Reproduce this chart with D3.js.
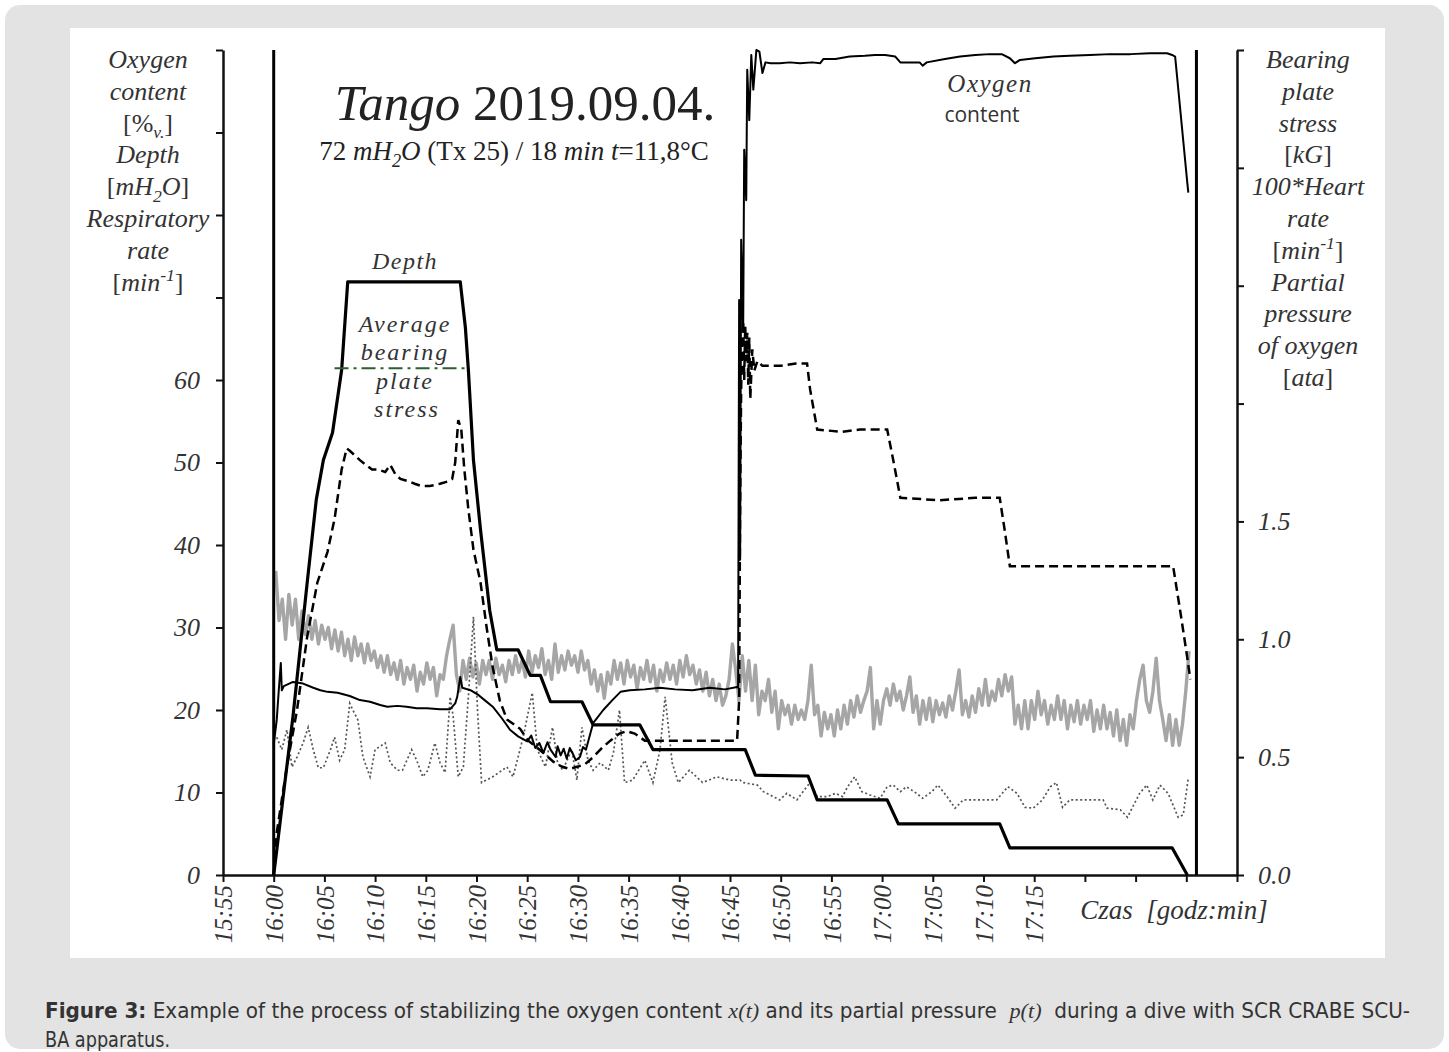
<!DOCTYPE html>
<html>
<head>
<meta charset="utf-8">
<script src="https://cdnjs.cloudflare.com/ajax/libs/d3/7.8.5/d3.min.js"></script>
<style>
body { margin: 0; background: #fff; }
svg { display: block; }
</style>
</head>
<body>
<svg id="chart" width="1449" height="1052"></svg>
<script>
// time is in minutes after 16:00
var tickTimes = [-5, 0, 5, 10, 15, 20, 25, 30, 35, 40, 45, 50, 55, 60, 65, 70, 75, 80, 85, 90, 95];
var tickLabels = ["15:55", "16:00", "16:05", "16:10", "16:15", "16:20", "16:25", "16:30", "16:35", "16:40",
    "16:45", "16:50", "16:55", "17:00", "17:05", "17:10", "17:15", "", "", "", ""];
var leftTicks = [0, 10, 20, 30, 40, 50, 60, 70, 80, 90, 100];
var leftTickLabels = ["0", "10", "20", "30", "40", "50", "60", "", "", "", ""];
var rightTicks = [0, 0.5, 1, 1.5, 2, 2.5, 3, 3.5];
var rightTickLabels = ["0.0", "0.5", "1.0", "1.5", "", "", "", ""];

// start / end of the dive (vertical markers)
var diveMarks = [0, 91];

// depth [mH2O], left axis
var depth = [[0, 0], [0.3, 3.0], [1.1, 11.2], [1.9, 19.2], [2.6, 27.3], [3.3, 35.4], [4.2, 45.5], [4.9, 50.3],
    [5.8, 53.6], [6.7, 61.2], [7.3, 71.9], [18.4, 71.9], [18.9, 66.4], [19.2, 61.2], [19.7, 50.3], [20.4, 41.8],
    [21.3, 32.1], [22.0, 27.3], [24.1, 27.3], [25.3, 24.2], [26.3, 24.2], [27.3, 21.0], [30.4, 21.0], [31.5, 18.2],
    [36.1, 18.2], [37.4, 15.2], [46.5, 15.2], [47.5, 12.1], [52.7, 12.0], [53.6, 9.1], [60.5, 9.1], [61.6, 6.2],
    [71.6, 6.2], [72.6, 3.3], [88.6, 3.3], [90.1, 0]];

// oxygen content [%v], left axis
var oxygenContent = [[0.0, 15.8], [0.3, 18.8], [0.5, 22.4], [0.7, 25.7], [0.8, 22.4], [1.0, 22.9], [1.9, 23.4],
    [2.9, 23.2], [3.9, 22.7], [4.6, 22.4], [5.3, 22.2], [6.3, 22.1], [7.5, 21.7], [8.5, 21.2], [9.5, 21.0],
    [10.5, 20.6], [11.2, 20.4], [12.2, 20.5], [13.1, 20.4], [14.1, 20.2], [15.1, 20.2], [16.4, 20.1], [17.4, 20.1],
    [17.9, 20.8], [18.1, 21.6], [18.4, 24.0], [18.6, 22.7], [19.4, 22.4], [20.1, 21.9], [20.8, 21.2], [21.6, 20.4],
    [22.5, 19.0], [23.3, 17.6], [24.1, 16.8], [25.0, 16.2], [25.4, 16.9], [25.8, 15.4], [26.2, 16.0], [26.6, 14.8],
    [27.0, 16.1], [27.3, 15.2], [27.8, 14.3], [28.0, 15.6], [28.3, 14.5], [28.6, 15.3], [28.9, 14.1], [29.2, 15.4],
    [29.5, 14.7], [29.8, 13.9], [30.2, 14.3], [30.5, 15.5], [30.8, 15.2], [31.5, 18.4], [32.5, 20.0], [33.4, 21.2],
    [34.2, 22.2], [35.1, 22.4], [36.6, 22.5], [38.1, 22.7], [39.6, 22.5], [41.3, 22.4], [43.0, 22.7], [44.5, 22.5],
    [45.7, 22.8], [45.8, 22.7], [45.9, 69.7], [46.0, 38.2], [46.1, 77.0], [46.3, 66.1], [46.4, 87.9], [46.6, 81.8],
    [46.7, 97.6], [46.9, 91.5], [47.1, 99.4], [47.3, 95.2], [47.6, 100], [47.9, 99.8], [48.2, 97.2], [48.5, 98.5],
    [49.0, 98.4], [49.9, 98.4], [50.9, 98.5], [51.9, 98.4], [53.1, 98.5], [53.9, 98.4], [54.2, 98.9], [55.4, 98.9],
    [56.8, 99.2], [58.3, 99.3], [59.3, 99.4], [60.3, 99.4], [61.3, 99.2], [61.8, 98.5], [62.9, 98.5], [63.7, 98.5],
    [64.0, 98.1], [64.4, 98.5], [66.2, 98.9], [67.7, 99.2], [69.2, 99.4], [70.6, 99.5], [71.8, 99.5], [72.6, 99.0],
    [73.1, 98.4], [73.6, 98.8], [75.1, 99.0], [76.9, 99.2], [78.5, 99.3], [80.5, 99.4], [82.5, 99.5], [84.5, 99.5],
    [86.4, 99.6], [88.1, 99.6], [88.6, 99.4], [88.9, 99.2], [90.1, 83.9], [90.2, 82.7]];

// partial pressure of oxygen [ata], right axis
var pO2 = [[0, 0], [0.3, 0.18], [1.3, 0.46], [2.3, 0.70], [3.3, 1.01], [4.3, 1.24], [5.3, 1.37], [6.0, 1.51],
    [6.7, 1.72], [7.2, 1.81], [7.5, 1.80], [8.0, 1.78], [8.5, 1.76], [9.1, 1.74], [9.7, 1.72], [10.3, 1.72],
    [11.0, 1.71], [11.5, 1.74], [12.0, 1.70], [12.5, 1.68], [13.3, 1.67], [13.9, 1.66], [14.6, 1.65], [15.4, 1.65],
    [16.4, 1.66], [17.2, 1.67], [17.6, 1.68], [17.9, 1.75], [18.2, 1.93], [18.5, 1.89], [18.8, 1.72], [19.2, 1.55],
    [19.7, 1.38], [20.4, 1.24], [21.0, 1.05], [21.6, 0.88], [22.3, 0.74], [23.0, 0.66], [24.3, 0.62], [25.1, 0.57],
    [26.0, 0.54], [26.8, 0.51], [27.6, 0.48], [28.4, 0.46], [29.2, 0.45], [30.0, 0.46], [30.7, 0.47], [31.5, 0.50],
    [32.4, 0.54], [33.2, 0.57], [34.1, 0.60], [34.8, 0.61], [35.6, 0.60], [36.6, 0.57], [38.1, 0.57], [40.1, 0.57],
    [42.0, 0.57], [44.0, 0.57], [45.7, 0.57], [45.9, 0.74], [46.0, 1.59], [46.1, 2.06], [46.2, 2.27], [46.3, 2.35],
    [46.4, 2.10], [46.5, 2.33], [46.6, 2.18], [46.7, 2.30], [46.8, 2.08], [46.9, 2.28], [47.0, 2.02], [47.2, 2.23],
    [47.4, 2.14], [47.7, 2.18], [48.2, 2.16], [50.0, 2.16], [51.5, 2.17], [52.6, 2.17], [52.9, 2.06], [53.6, 1.89],
    [56.0, 1.88], [57.8, 1.89], [60.5, 1.89], [61.1, 1.76], [61.8, 1.60], [65.7, 1.59], [69.2, 1.60], [71.6, 1.60],
    [72.1, 1.46], [72.6, 1.31], [77.6, 1.31], [82.5, 1.31], [88.7, 1.31], [89.4, 1.12], [90.0, 0.95], [90.4, 0.83]];

// respiratory rate [1/min], left axis
var respiratoryRate = [[0.3, 16.7], [0.8, 15.2], [1.3, 17.6], [1.8, 13.1], [2.3, 14.3], [2.9, 16.0], [3.4, 17.9],
    [3.9, 15.2], [4.4, 13.0], [4.9, 13.0], [5.6, 15.2], [6.0, 16.7], [6.5, 13.9], [7.0, 15.2], [7.5, 20.8],
    [7.8, 20.0], [8.3, 18.8], [8.8, 14.3], [9.5, 11.9], [10.0, 15.2], [11.0, 16.0], [11.5, 13.6], [12.2, 12.7],
    [12.7, 12.7], [13.6, 15.2], [14.1, 13.9], [14.7, 11.9], [15.2, 12.7], [15.9, 16.0], [16.4, 13.6], [16.9, 12.4],
    [17.4, 21.6], [17.7, 19.2], [18.2, 11.9], [18.7, 13.1], [19.2, 21.6], [19.7, 31.3], [20.1, 20.0], [20.5, 11.2],
    [21.6, 11.9], [23.0, 13.1], [23.6, 11.9], [24.6, 16.7], [25.5, 22.1], [26.0, 15.2], [26.8, 13.1], [27.5, 17.9],
    [28.0, 13.6], [28.5, 12.7], [29.4, 15.2], [29.9, 11.5], [30.4, 17.9], [31.0, 13.9], [31.5, 12.7], [32.2, 13.6],
    [33.0, 12.7], [33.5, 14.8], [34.1, 20.0], [34.6, 11.2], [35.4, 11.5], [36.6, 13.9], [37.4, 11.2], [38.1, 15.2],
    [38.6, 21.6], [39.3, 13.6], [39.9, 11.2], [41.0, 12.7], [42.3, 11.2], [43.7, 11.9], [45.0, 11.5], [46.0, 11.5],
    [46.3, 11.2], [47.7, 10.9], [48.3, 10.1], [49.9, 9.1], [50.6, 9.9], [51.6, 9.1], [52.2, 10.1], [52.9, 11.2],
    [53.6, 9.5], [54.6, 9.5], [55.4, 9.9], [56.1, 9.5], [56.6, 10.7], [57.3, 11.9], [58.0, 10.1], [58.8, 9.7],
    [59.8, 9.3], [60.5, 10.7], [61.1, 10.9], [61.8, 10.1], [62.4, 10.7], [63.4, 9.9], [64.0, 9.3], [64.9, 10.1],
    [65.5, 10.9], [66.4, 9.5], [67.2, 8.1], [68.0, 9.1], [71.3, 9.1], [72.4, 10.7], [73.3, 9.9], [74.1, 8.2],
    [74.9, 8.1], [75.8, 9.1], [76.6, 10.7], [77.2, 11.2], [77.8, 8.2], [78.5, 9.1], [81.8, 9.1], [82.2, 8.1],
    [83.5, 7.9], [84.2, 7.0], [85.4, 9.9], [86.1, 10.9], [86.7, 9.1], [87.4, 10.9], [88.2, 9.9], [89.2, 7.0],
    [89.7, 7.3], [90.2, 11.8]];

// heart rate [1/min], sampled every hrStep minutes from hrStart; plotted as rate/100 on the right axis
var hrStart = 0.2, hrStep = 0.324;
var heartRate = [129, 108, 117, 100, 119, 106, 117, 100,
    112, 102, 110, 100, 108, 98, 106, 100, 105, 96,
    104, 95, 103, 93, 100, 91, 101, 93, 98, 90,
    98, 91, 95, 88, 93, 86, 93, 85, 90, 83,
    91, 81, 88, 83, 89, 78, 86, 81, 90, 83,
    88, 76, 85, 83, 93, 100, 106, 85, 78, 91,
    83, 92, 84, 90, 81, 91, 85, 91, 83, 92,
    85, 89, 82, 91, 85, 93, 86, 91, 84, 95,
    86, 93, 88, 96, 85, 91, 83, 98, 86, 93,
    87, 95, 89, 93, 86, 95, 87, 91, 81, 87,
    78, 85, 75, 86, 81, 91, 83, 90, 81, 91,
    84, 89, 79, 88, 83, 91, 82, 89, 78, 87,
    82, 90, 83, 89, 81, 91, 84, 93, 85, 89,
    81, 87, 78, 86, 76, 83, 74, 81, 72, 76,
    83, 98, 87, 74, 93, 78, 91, 74, 89, 68,
    78, 74, 83, 69, 78, 62, 74, 68, 72, 64,
    72, 66, 70, 66, 74, 89, 68, 72, 59, 69,
    62, 68, 59, 70, 62, 72, 64, 74, 67, 76,
    69, 74, 78, 88, 62, 74, 64, 74, 79, 72,
    81, 74, 78, 70, 76, 84, 69, 76, 64, 74,
    66, 75, 65, 74, 68, 73, 67, 76, 70, 78,
    87, 68, 74, 67, 76, 69, 79, 72, 83, 72,
    78, 74, 83, 76, 85, 78, 84, 64, 72, 62,
    74, 62, 74, 66, 78, 68, 74, 64, 72, 66,
    76, 66, 74, 62, 72, 65, 74, 64, 72, 66,
    74, 61, 70, 62, 72, 62, 69, 59, 70, 57,
    66, 55, 68, 62, 74, 83, 89, 74, 69, 78,
    92, 74, 66, 57, 68, 55, 66, 55, 64, 78,
    95];

// average bearing plate stress [kG], right axis
var avgStress = 2.15, avgStressFrom = 6.0, avgStressTo = 18.9;

var serif = "'Liberation Serif', 'Times New Roman', serif";
var captionFont = "'DejaVu Sans Condensed', 'DejaVu Sans', sans-serif";
var svg = d3.select("#chart");

svg.append("rect").attr("width", 1449).attr("height", 1052).attr("fill", "#fff");
svg.append("rect").attr("x", 5).attr("y", 5).attr("width", 1439).attr("height", 1044)
    .attr("rx", 15).attr("fill", "#e3e3e3");
svg.append("rect").attr("x", 70).attr("y", 28).attr("width", 1315).attr("height", 930).attr("fill", "#fff");

var x = d3.scaleLinear().domain([-5, 95]).range([223, 1237]);
var yL = d3.scaleLinear().domain([0, 100]).range([875, 50]);
var yR = d3.scaleLinear().domain([0, 3.5]).range([875, 50]);

// text with italic / sub / sup parts
function rich(sel, parts, size) {
    var shift = 0;
    parts.forEach(function(p) {
        var code = p[1] || "";
        var target = 0, fs = size;
        if (code.indexOf("_") >= 0) { target = size * 0.25; fs = size * 0.68; }
        if (code.indexOf("^") >= 0) { target = -size * 0.38; fs = size * 0.68; }
        var ts = sel.append("tspan").text(p[0])
            .attr("dy", target - shift)
            .style("font-size", fs + "px")
            .style("font-style", code.indexOf("i") >= 0 ? "italic" : "normal")
            .style("font-weight", code.indexOf("b") >= 0 ? "bold" : "normal");
        if (p[2]) ts.style("font-family", p[2]);
        shift = target;
    });
}

function styleAxis(g) {
    g.select(".domain").attr("stroke", "#111").attr("stroke-width", 2.5);
    g.selectAll(".tick line").attr("stroke", "#111").attr("stroke-width", 2);
    g.selectAll(".tick text").attr("fill", "#333")
        .style("font-family", serif).style("font-style", "italic").style("font-size", "26px");
}

// axes
var axLeft = svg.append("g").attr("transform", "translate(223,0)")
    .call(d3.axisLeft(yL).tickValues(leftTicks).tickFormat((d, i) => leftTickLabels[i])
        .tickSize(7).tickSizeOuter(0).tickPadding(16));
styleAxis(axLeft);

var axRight = svg.append("g").attr("transform", "translate(1237,0)")
    .call(d3.axisRight(yR).tickValues(rightTicks).tickFormat((d, i) => rightTickLabels[i])
        .tickSize(7).tickSizeOuter(0).tickPadding(14));
styleAxis(axRight);

var axBottom = svg.append("g").attr("transform", "translate(0,875)")
    .call(d3.axisBottom(x).tickValues(tickTimes).tickFormat((d, i) => tickLabels[i])
        .tickSize(7).tickSizeOuter(0));
styleAxis(axBottom);
axBottom.selectAll(".tick text")
    .attr("transform", "rotate(-90)")
    .attr("text-anchor", "end")
    .attr("x", -10).attr("y", 0).attr("dy", "0.35em")
    .style("font-size", "25px");

svg.append("text").attr("x", 1174).attr("y", 919).attr("text-anchor", "middle")
    .attr("fill", "#333").style("font-family", serif).style("font-style", "italic").style("font-size", "27px")
    .attr("xml:space", "preserve")
    .text("Czas  [godz:min]");

// series
var lineL = d3.line().x(d => x(d[0])).y(d => yL(d[1]));
var lineR = d3.line().x(d => x(d[0])).y(d => yR(d[1]));
var lineHR = d3.line().x((d, i) => x(hrStart + i * hrStep)).y(d => yR(d / 100));

svg.append("path").datum(heartRate).attr("d", lineHR)
    .attr("fill", "none").attr("stroke", "#a6a6a6").attr("stroke-width", 3.4).attr("stroke-linejoin", "round");

svg.append("path").datum(respiratoryRate).attr("d", lineL)
    .attr("fill", "none").attr("stroke", "#555").attr("stroke-width", 1.7).attr("stroke-dasharray", "2,2.5");

svg.append("path").datum(depth).attr("d", lineL)
    .attr("fill", "none").attr("stroke", "#000").attr("stroke-width", 3.2).attr("stroke-linejoin", "round");

svg.append("path").datum(oxygenContent).attr("d", lineL)
    .attr("fill", "none").attr("stroke", "#000").attr("stroke-width", 2).attr("stroke-linejoin", "round");

svg.append("path").datum(pO2).attr("d", lineR)
    .attr("fill", "none").attr("stroke", "#000").attr("stroke-width", 2.5).attr("stroke-dasharray", "9,5");

svg.append("line")
    .attr("x1", x(avgStressFrom)).attr("x2", x(avgStressTo))
    .attr("y1", yR(avgStress)).attr("y2", yR(avgStress))
    .attr("stroke", "#2e5e2e").attr("stroke-width", 2).attr("stroke-dasharray", "14,5,3,5");

svg.selectAll(".dive-mark").data(diveMarks).enter().append("line")
    .attr("class", "dive-mark")
    .attr("x1", d => x(d)).attr("x2", d => x(d))
    .attr("y1", yL(0)).attr("y2", yL(100))
    .attr("stroke", "#000").attr("stroke-width", 3);

// axis titles
var leftTitle = [
    [["Oxygen", "i"]], [["content", "i"]], [["[%", ""], ["v.", "i_"], ["]", ""]], [["Depth", "i"]],
    [["[", ""], ["mH", "i"], ["2", "i_"], ["O", "i"], ["]", ""]], [["Respiratory", "i"]], [["rate", "i"]],
    [["[", ""], ["min", "i"], ["-1", "i^"], ["]", ""]]
];
var rightTitle = [
    [["Bearing", "i"]], [["plate", "i"]], [["stress", "i"]], [["[", ""], ["kG", "i"], ["]", ""]],
    [["100*Heart", "i"]], [["rate", "i"]], [["[", ""], ["min", "i"], ["-1", "i^"], ["]", ""]],
    [["Partial", "i"]], [["pressure", "i"]], [["of oxygen", "i"]], [["[", ""], ["ata", "i"], ["]", ""]]
];
leftTitle.forEach(function(parts, i) {
    var t = svg.append("text").attr("x", 148).attr("y", 68 + i * 31.8).attr("text-anchor", "middle")
        .attr("fill", "#333").style("font-family", serif);
    rich(t, parts, 26);
});
rightTitle.forEach(function(parts, i) {
    var t = svg.append("text").attr("x", 1308).attr("y", 68 + i * 31.8).attr("text-anchor", "middle")
        .attr("fill", "#333").style("font-family", serif);
    rich(t, parts, 26);
});

// chart title
var title = svg.append("text").attr("x", 525).attr("y", 120).attr("text-anchor", "middle")
    .attr("fill", "#222").style("font-family", serif);
rich(title, [["Tango", "i"], [" 2019.09.04.", ""]], 51);
var sub = svg.append("text").attr("x", 514).attr("y", 160).attr("text-anchor", "middle")
    .attr("fill", "#222").style("font-family", serif);
rich(sub, [["72 ", ""], ["mH", "i"], ["2", "i_"], ["O", "i"], [" (Tx 25) / 18 ", ""], ["min", "i"], [" ", ""],
    ["t", "i"], ["=11,8°C", ""]], 27);

// annotations
function note(txt, cx, cy, family, style, size, ls) {
    svg.append("text").attr("x", cx).attr("y", cy).attr("text-anchor", "middle")
        .attr("fill", "#333").style("font-family", family).style("font-style", style)
        .style("font-size", size + "px").style("letter-spacing", ls + "px").text(txt);
}
note("Oxygen", 990, 92, serif, "italic", 25, 1.5);
note("content", 982, 122, "'Open Sans', sans-serif", "normal", 21, 0);
note("Depth", 405, 269, serif, "italic", 24, 1.5);
note("Average", 405, 332, serif, "italic", 24, 2);
note("bearing", 405, 360, serif, "italic", 24, 2);
note("plate", 405, 389, serif, "italic", 24, 2);
note("stress", 407, 417, serif, "italic", 24, 2);

// caption
var cap1 = svg.append("text").attr("x", 45).attr("y", 1018).attr("fill", "#333")
    .attr("textLength", 1365).attr("lengthAdjust", "spacingAndGlyphs")
    .attr("xml:space", "preserve")
    .style("font-family", captionFont).style("font-stretch", "condensed");
rich(cap1, [["Figure 3:", "b"], [" Example of the process of stabilizing the oxygen content ", ""],
    ["x(t)", "i", serif], [" and its partial pressure  ", ""], ["p(t)", "i", serif],
    ["  during a dive with SCR CRABE SCU-", ""]], 22);
svg.append("text").attr("x", 45).attr("y", 1047).attr("fill", "#333")
    .attr("textLength", 125).attr("lengthAdjust", "spacingAndGlyphs")
    .style("font-family", captionFont).style("font-stretch", "condensed")
    .style("font-size", "22px").text("BA apparatus.");
</script>
</body>
</html>
